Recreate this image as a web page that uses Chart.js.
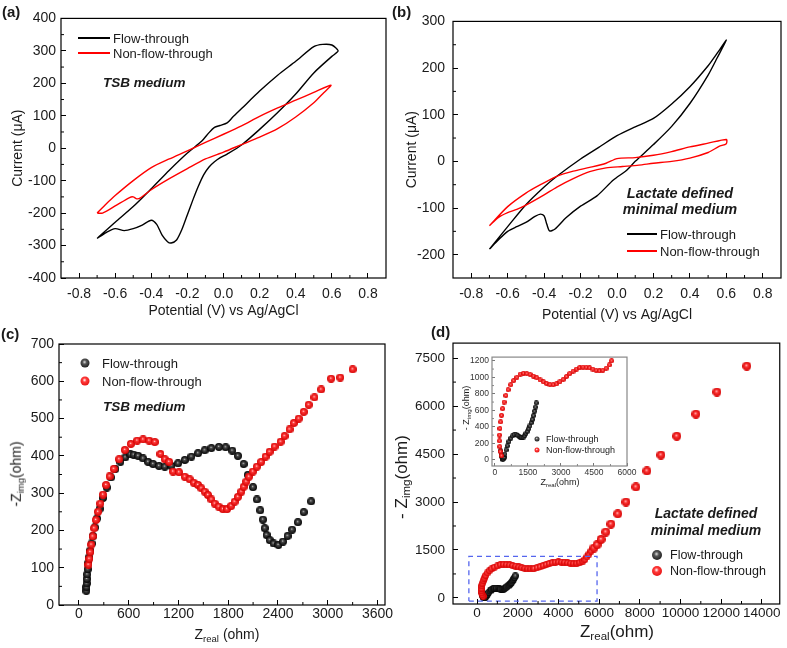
<!DOCTYPE html>
<html>
<head>
<meta charset="utf-8">
<script src="https://cdn.jsdelivr.net/npm/chart.js@4.4.1/dist/chart.umd.min.js"></script>
<style>
  body { margin: 0; background: #fff; font-family: "Liberation Sans", Arial, sans-serif; color: #1a1a1a; }
  #page { position: relative; width: 787px; height: 648px; overflow: hidden; }
  canvas { position: absolute; }
  .t { position: absolute; white-space: nowrap; line-height: 1; }
  .c { transform: translate(-50%, -50%); }
  .l { transform: translateY(-50%); }
  .r { transform: translate(-50%, -50%) rotate(-90deg); }
  .lab { font-weight: bold; font-size: 15px; }
  .note { font-weight: bold; font-style: italic; text-align: center; }
  .line { position: absolute; height: 1.5px; }
  .ball { position: absolute; border-radius: 50%; transform: translate(-50%, -50%); }
  .red { background: radial-gradient(circle at 45% 40%, #fff 0%, #ff3a3a 28%, #d80000 100%); }
  .blk { background: radial-gradient(circle at 45% 40%, #ddd 0%, #555 28%, #000 100%); }
  sub { font-size: 68%; vertical-align: -0.3em; }
</style>
</head>
<body>
<div id="page">
  <canvas id="ca" width="393" height="322" style="left:0;top:0"></canvas>
  <canvas id="cb" width="394" height="330" style="left:393px;top:0"></canvas>
  <canvas id="cc" width="400" height="326" style="left:0;top:322px"></canvas>
  <canvas id="cd" width="394" height="326" style="left:393px;top:322px"></canvas>
  <canvas id="ci" width="180" height="146" style="left:462px;top:346px"></canvas>

  <!-- panel letters -->
  <div class="t lab" style="left:2px;top:4px">(a)</div>
  <div class="t lab" style="left:392px;top:4px">(b)</div>
  <div class="t lab" style="left:1px;top:326px">(c)</div>
  <div class="t lab" style="left:431px;top:324px">(d)</div>

  <!-- (a) legend + note -->
  <div class="line" style="left:78px;top:37px;width:32px;background:#000"></div>
  <div class="t l" style="left:113px;top:38px;font-size:13px">Flow-through</div>
  <div class="line" style="left:78px;top:52px;width:32px;background:#f00"></div>
  <div class="t l" style="left:113px;top:53px;font-size:13px">Non-flow-through</div>
  <div class="t l note" style="left:103px;top:83px;font-size:13.5px">TSB medium</div>

  <!-- (b) legend + note -->
  <div class="t c note" style="left:680px;top:193px;font-size:14.5px">Lactate defined</div>
  <div class="t c note" style="left:680px;top:209px;font-size:14.5px">minimal medium</div>
  <div class="line" style="left:627px;top:233px;width:30px;background:#000"></div>
  <div class="t l" style="left:660px;top:234px;font-size:13px">Flow-through</div>
  <div class="line" style="left:627px;top:250px;width:30px;background:#f00"></div>
  <div class="t l" style="left:660px;top:251px;font-size:13px">Non-flow-through</div>

  <!-- (c) legend, note, axis titles -->
  <div class="ball blk" style="left:85px;top:363px;width:9px;height:9px"></div>
  <div class="t l" style="left:102px;top:363px;font-size:13px">Flow-through</div>
  <div class="ball red" style="left:85px;top:381px;width:9px;height:9px"></div>
  <div class="t l" style="left:102px;top:381px;font-size:13px">Non-flow-through</div>
  <div class="t l note" style="left:103px;top:407px;font-size:13.5px">TSB medium</div>
  <div class="t c" style="left:227px;top:635px;font-size:14px">Z<sub>real</sub> (ohm)</div>
  <div class="t r" style="left:17px;top:474px;font-size:14px">-Z<sub>img</sub>(ohm)</div>

  <!-- (d) legend, note, axis titles -->
  <div class="t c note" style="left:706px;top:513px;font-size:14px">Lactate defined</div>
  <div class="t c note" style="left:706px;top:530px;font-size:14px">minimal medium</div>
  <div class="ball blk" style="left:657px;top:555px;width:10px;height:10px"></div>
  <div class="t l" style="left:670px;top:555px;font-size:12.5px">Flow-through</div>
  <div class="ball red" style="left:657px;top:571px;width:10px;height:10px"></div>
  <div class="t l" style="left:670px;top:571px;font-size:12.5px">Non-flow-through</div>
  <div class="t c" style="left:617px;top:633px;font-size:17px">Z<sub>real</sub>(ohm)</div>
  <div class="t r" style="left:403px;top:477px;font-size:17px">- Z<sub>img</sub>(ohm)</div>

  <!-- inset legend and titles -->
  <div class="ball blk" style="left:537px;top:439px;width:5px;height:5px"></div>
  <div class="t l" style="left:546px;top:439px;font-size:9px">Flow-through</div>
  <div class="ball red" style="left:537px;top:450px;width:5px;height:5px"></div>
  <div class="t l" style="left:546px;top:450px;font-size:9px">Non-flow-through</div>
  <div class="t c" style="left:560px;top:483px;font-size:9px">Z<sub>real</sub>(ohm)</div>
  <div class="t r" style="left:467px;top:408px;font-size:9px">- Z<sub>img</sub>(ohm)</div>
</div>

<script>
// ---- (a) CV, TSB medium: potential (V) / current (uA)
var aFlowV = [-0.70,-0.65,-0.60,-0.55,-0.50,-0.45,-0.40,-0.37,-0.34,-0.31,-0.29,-0.26,-0.23,-0.20,-0.17,-0.14,-0.11,-0.08,-0.05,-0.02,0.02,0.10,0.20,0.30,0.40,0.50,0.60,0.635,0.60,0.55,0.50,0.40,0.30,0.20,0.10,0.05,0.02,-0.02,-0.05,-0.08,-0.12,-0.20,-0.30,-0.40,-0.50,-0.60,-0.70];
var aFlowI = [-278,-260,-248,-254,-248,-237,-222,-235,-268,-288,-292,-283,-250,-205,-160,-118,-82,-58,-42,-30,-18,10,58,110,167,232,283,300,318,320,313,268,225,176,122,95,78,70,64,48,22,-15,-68,-125,-180,-228,-278];
var aNonV = [-0.70,-0.65,-0.60,-0.50,-0.40,-0.30,-0.20,-0.10,0.00,0.10,0.20,0.30,0.40,0.50,0.595,0.55,0.50,0.40,0.30,0.20,0.10,0.00,-0.10,-0.20,-0.30,-0.40,-0.46,-0.48,-0.50,-0.52,-0.60,-0.67,-0.70];
var aNonI = [-200,-172,-146,-100,-60,-33,-8,18,43,69,98,124,148,172,194,168,140,96,60,34,11,-12,-33,-63,-94,-128,-153,-156,-150,-152,-178,-200,-200];

// ---- (b) CV, lactate defined minimal medium
var bFlowV = [-0.70,-0.65,-0.60,-0.55,-0.50,-0.45,-0.42,-0.40,-0.385,-0.37,-0.34,-0.28,-0.20,-0.11,-0.02,0.05,0.10,0.20,0.30,0.40,0.50,0.55,0.60,0.55,0.50,0.40,0.30,0.20,0.10,0.00,-0.10,-0.20,-0.33,-0.40,-0.50,-0.60,-0.70];
var bFlowI = [-188,-168,-150,-140,-131,-118,-113,-117,-135,-149,-145,-121,-96,-74,-40,-20,0,36,75,124,185,222,260,232,205,160,123,92,74,55,30,5,-32,-55,-93,-140,-188];
var bNonV = [-0.70,-0.65,-0.60,-0.55,-0.50,-0.40,-0.33,-0.24,-0.15,-0.06,0.03,0.12,0.20,0.30,0.40,0.50,0.56,0.60,0.60,0.50,0.40,0.30,0.20,0.10,0.00,-0.06,-0.15,-0.24,-0.33,-0.42,-0.50,-0.60,-0.70];
var bNonI = [-138,-120,-110,-103,-94,-72,-55,-37,-22,-14,-11,-8,-4,0,7,19,32,38,47,39,31,21,13,8,6,-4,-13,-21,-32,-50,-68,-97,-138];

var cvTicksX = [-0.8,-0.6,-0.4,-0.2,0,0.2,0.4,0.6,0.8];
var aTicksY = [-400,-300,-200,-100,0,100,200,300,400];
var bTicksY = [-200,-100,0,100,200,300];

// ---- (c) Nyquist, TSB medium: Z real / -Z img (ohm)
var cFlowX = [90,91,93,96,100,106,114,124,137,152,170,192,218,250,290,335,385,440,500,560,620,660,714,774,834,894,966,1035,1115,1195,1276,1356,1436,1516,1597,1688,1769,1849,1917,1986,2037,2098,2146,2186,2218,2240,2262,2300,2346,2405,2460,2515,2570,2640,2710,2800];
var cFlowY = [38,48,58,70,82,96,112,128,146,165,185,208,232,258,287,315,342,365,384,396,404,403,400,393,384,378,373,371,373,380,389,398,407,415,421,424,423,414,400,378,349,316,283,254,229,206,188,174,165,161,170,185,202,222,249,278];
var cNonX = [115,125,136,150,166,184,205,230,258,290,328,370,420,485,554,626,702,774,847,915,983,1035,1087,1135,1207,1276,1336,1384,1436,1476,1516,1556,1597,1637,1685,1737,1785,1837,1877,1917,1958,1986,2018,2049,2097,2145,2198,2250,2298,2358,2431,2479,2539,2590,2650,2710,2770,2840,2920,3040,3150,3300];
var cNonY = [108,124,142,162,184,206,228,250,272,296,322,345,365,391,416,432,441,444,441,437,405,391,384,358,356,344,337,328,322,313,304,295,283,272,264,257,257,266,277,290,304,317,331,344,358,371,384,398,411,425,438,453,471,488,500,518,537,557,578,607,610,632];
var cTicksX = [0,600,1200,1800,2400,3000,3600];
var cTicksY = [0,100,200,300,400,500,600,700];

// ---- (d) Nyquist, lactate medium (inset re-uses the same points)
var dFlowX = [260,280,300,330,360,390,420,460,510,570,640,720,800,880,960,1040,1110,1170,1230,1290,1350,1410,1470,1530,1590,1650,1700,1750,1800,1840,1880];
var dFlowY = [110,70,40,15,5,10,30,70,120,170,220,262,290,305,305,295,280,270,268,275,292,318,345,375,410,450,490,535,590,640,690];
var dNonX = [300,250,220,205,210,230,260,300,350,420,500,600,720,850,1000,1150,1300,1450,1600,1750,1900,2050,2200,2350,2500,2650,2800,2950,3100,3250,3400,3550,3700,3850,4000,4150,4300,4450,4600,4750,4900,5050,5200,5300,5400,5500,5600,5750,5900,6100,6330,6580,6920,7320,7810,8350,9040,9820,10760,11790,13260];
var dNonY = [50,100,160,230,300,380,460,540,620,700,780,850,910,960,1000,1040,1050,1045,1035,1015,995,968,945,925,912,910,920,945,975,1010,1045,1075,1100,1118,1125,1122,1115,1100,1085,1078,1085,1110,1150,1200,1280,1370,1460,1560,1660,1830,2060,2310,2630,3000,3470,3970,4470,5060,5750,6440,7250];
var boxX = [-400,5900,5900,-400,-400];
var boxY = [-100,-100,1300,1300,-100];
var dTicksX = [0,2000,4000,6000,8000,10000,12000,14000];
var dTicksY = [0,1500,3000,4500,6000,7500];
var insetTicksX = [0,1500,3000,4500,6000];
var insetTicksY = [0,200,400,600,800,1000,1200];

Chart.defaults.font.family = '"Liberation Sans", Arial, sans-serif';
Chart.defaults.color = '#1a1a1a';

function pts(xs, ys) {
  return xs.map(function (x, i) { return { x: x, y: ys[i] }; });
}

function sphere(hi, mid, dark, d) {
  var c = document.createElement('canvas');
  c.width = d; c.height = d;
  var g = c.getContext('2d'), r = d / 2;
  var grad = g.createRadialGradient(r * 0.9, r * 0.8, 0, r, r, r);
  grad.addColorStop(0, hi);
  grad.addColorStop(0.28, mid);
  grad.addColorStop(1, dark);
  g.fillStyle = grad;
  g.beginPath(); g.arc(r, r, r, 0, Math.PI * 2); g.fill();
  return c;
}
function redBall(d) { return sphere('#ffffff', '#ff3a3a', '#d40000', d); }
function blackBall(d) { return sphere('#dddddd', '#4a4a4a', '#000000', d); }

// box round the plot area plus short minor ticks between the labelled ones
var framePlugin = {
  id: 'frame',
  afterDraw: function (chart, args, opts) {
    var a = chart.chartArea, ctx = chart.ctx;
    ctx.save();
    ctx.strokeStyle = opts.color || '#000';
    ctx.lineWidth = opts.width || 1.2;
    ctx.strokeRect(a.left, a.top, a.right - a.left, a.bottom - a.top);
    var len = opts.minor || 3;
    ctx.lineWidth = 1;
    ['x', 'y'].forEach(function (id) {
      var s = chart.scales[id], t = s.ticks;
      for (var i = 0; i < t.length - 1; i++) {
        var p = s.getPixelForValue((t[i].value + t[i + 1].value) / 2);
        ctx.beginPath();
        if (id === 'x') { ctx.moveTo(p, a.bottom); ctx.lineTo(p, a.bottom - len); }
        else { ctx.moveTo(a.left, p); ctx.lineTo(a.left + len, p); }
        ctx.stroke();
      }
    });
    ctx.restore();
  }
};

function axis(o) {
  var ax = {
    type: 'linear', min: o.min, max: o.max,
    border: { display: false },
    grid: { drawOnChartArea: false, drawTicks: true, tickLength: -(o.tl || 5), color: o.tickColor || '#000', lineWidth: 1 },
    ticks: {
      autoSkip: false, maxRotation: 0, padding: o.pad,
      font: { size: o.fs || 14 }, color: o.color || '#1a1a1a',
      callback: o.fmt || function (v) { return String(v); }
    },
    title: { display: false },
    afterBuildTicks: function (s) { s.ticks = o.ticks.map(function (v) { return { value: v }; }); },
    afterFit: function (s) { if (o.w) s.width = o.w; if (o.h) s.height = o.h; }
  };
  if (o.title) {
    ax.title = { display: true, text: o.title, font: { size: 14 }, color: '#1a1a1a', padding: o.titlePad };
  }
  return ax;
}

function baseOptions(pad, xs, ys, frame) {
  return {
    responsive: false, animation: false, events: [],
    layout: { padding: pad },
    plugins: { legend: { display: false }, tooltip: { enabled: false }, frame: frame || {} },
    scales: { x: xs, y: ys }
  };
}

function cvLine(v, i, color) {
  return { data: pts(v, i), showLine: true, borderColor: color, borderWidth: 1.4, pointRadius: 0, tension: 0.25, fill: false };
}
var fmt1 = function (v) { return v.toFixed(1); };

new Chart(document.getElementById('ca'), {
  type: 'scatter',
  data: { datasets: [cvLine(aNonV, aNonI, '#ff0000'), cvLine(aFlowV, aFlowI, '#000000')] },
  options: baseOptions({ left: 0, top: 17, right: 7, bottom: 0 },
    axis({ min: -0.9, max: 0.9, ticks: cvTicksX, h: 44, pad: 13, fmt: fmt1, title: 'Potential (V) vs Ag/AgCl', titlePad: { top: 0, bottom: 2 } }),
    axis({ min: -400, max: 400, ticks: aTicksY, w: 61, pad: 10, title: 'Current (\u03bcA)', titlePad: { top: 10, bottom: 0 } })),
  plugins: [framePlugin]
});

new Chart(document.getElementById('cb'), {
  type: 'scatter',
  data: { datasets: [cvLine(bNonV, bNonI, '#ff0000'), cvLine(bFlowV, bFlowI, '#000000')] },
  options: baseOptions({ left: 0, top: 18, right: 6, bottom: 0 },
    axis({ min: -0.9, max: 0.9, ticks: cvTicksX, h: 52, pad: 13, fmt: fmt1, title: 'Potential (V) vs Ag/AgCl', titlePad: { top: 0, bottom: 6 } }),
    axis({ min: -250, max: 300, ticks: bTicksY, w: 60, pad: 13, title: 'Current (\u03bcA)', titlePad: { top: 11, bottom: 0 } })),
  plugins: [framePlugin]
});

var redC = redBall(8), blackC = blackBall(8);
new Chart(document.getElementById('cc'), {
  type: 'scatter',
  data: { datasets: [
    { data: pts(cNonX, cNonY), pointStyle: redC, pointRadius: 4 },
    { data: pts(cFlowX, cFlowY), pointStyle: blackC, pointRadius: 4 }
  ] },
  options: baseOptions({ left: 0, top: 22, right: 15, bottom: 0 },
    axis({ min: -240, max: 3690, ticks: cTicksX, h: 43, pad: 6 }),
    axis({ min: 0, max: 700, ticks: cTicksY, w: 59, pad: 10 })),
  plugins: [framePlugin]
});

var redBig = redBall(9), redSmall = redBall(7), blackD = blackBall(7);
new Chart(document.getElementById('cd'), {
  type: 'scatter',
  data: { datasets: [
    { data: pts(boxX, boxY), showLine: true, borderColor: '#5566ee', borderWidth: 1.3, borderDash: [5, 4], pointRadius: 0, tension: 0 },
    { data: pts(dNonX, dNonY), pointRadius: 4,
      pointStyle: function (ctx) { return ctx.raw && ctx.raw.y > 1500 ? redBig : redSmall; } },
    { data: pts(dFlowX, dFlowY), pointStyle: blackD, pointRadius: 4 }
  ] },
  options: baseOptions({ left: 0, top: 21, right: 7, bottom: 0 },
    axis({ min: -1180, max: 14880, ticks: dTicksX, h: 44, pad: 6, fs: 13.5 }),
    axis({ min: -190, max: 7970, ticks: dTicksY, w: 60, pad: 13, fs: 13.5 })),
  plugins: [framePlugin]
});

var redI = redBall(5), blackI = blackBall(5);
new Chart(document.getElementById('ci'), {
  type: 'scatter',
  data: { datasets: [
    { data: pts(dNonX, dNonY), pointStyle: redI, pointRadius: 2.5 },
    { data: pts(dFlowX, dFlowY), pointStyle: blackI, pointRadius: 2.5 }
  ] },
  options: baseOptions({ left: 0, top: 6, right: 15, bottom: 0 },
    axis({ min: -130, max: 6000, ticks: insetTicksX, h: 26, pad: 5, tl: 3, fs: 8.5, color: '#333', tickColor: '#777' }),
    axis({ min: -75, max: 1245, ticks: insetTicksY, w: 30, pad: 6, tl: 3, fs: 8.5, color: '#333', tickColor: '#777' }),
    { color: '#888', width: 1.2, minor: 2 }),
  plugins: [framePlugin]
});
</script>
</body>
</html>
